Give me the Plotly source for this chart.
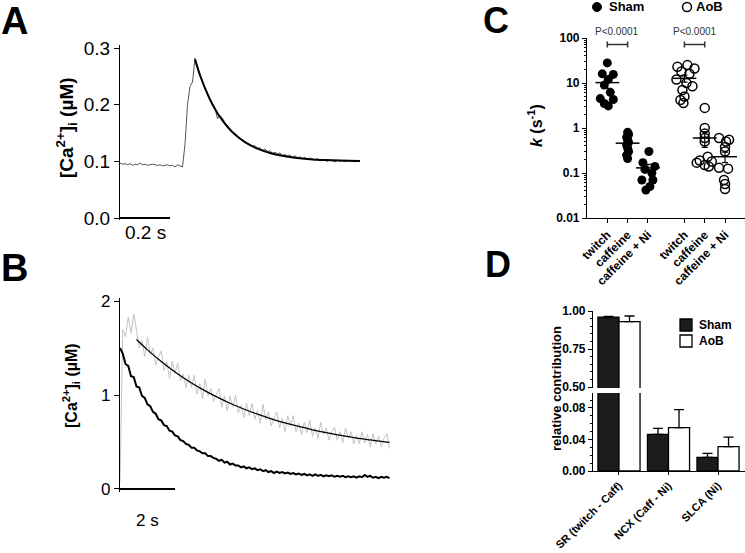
import plotly.graph_objects as go

# ------------------------------------------------------------------ data
# Panel A: twitch Ca transient (sampled every A_DT s) and its exponential fit
A_DT = 0.01
A_TRACE = [
    0.097, 0.095, 0.096, 0.094, 0.096, 0.093, 0.095, 0.094, 0.097, 0.094,
    0.095, 0.093, 0.094, 0.095, 0.094, 0.093, 0.094, 0.092, 0.093, 0.094,
    0.092, 0.093, 0.090, 0.094, 0.092,
    0.090, 0.130, 0.200, 0.232, 0.240, 0.282,
    0.266, 0.250, 0.241, 0.228, 0.220, 0.208, 0.201, 0.194, 0.175, 0.181,
    0.176, 0.168, 0.163, 0.158, 0.152, 0.149, 0.144, 0.141, 0.137, 0.134,
    0.131, 0.130, 0.126, 0.128, 0.123, 0.124, 0.119, 0.122, 0.117, 0.119,
    0.114, 0.116, 0.113, 0.115, 0.110, 0.112, 0.109, 0.111, 0.107, 0.110,
    0.106, 0.108, 0.105, 0.107, 0.103, 0.106, 0.104, 0.102, 0.105, 0.101,
    0.103, 0.102, 0.100, 0.103, 0.101, 0.099, 0.102, 0.100, 0.101, 0.099,
    0.102, 0.100, 0.101, 0.099, 0.101, 0.100,
]
A_FIT_T = [0.30, 0.32, 0.34, 0.36, 0.38, 0.40, 0.43, 0.46, 0.50, 0.55, 0.60,
           0.65, 0.70, 0.76, 0.82, 0.88, 0.96]
A_FIT_V = [0.280, 0.2523, 0.229, 0.2092, 0.1924, 0.1782, 0.1609, 0.1474, 0.134,
           0.1224, 0.1148, 0.1097, 0.1064, 0.1039, 0.1024, 0.1015, 0.1008]
A_YTICKS = [0.0, 0.1, 0.2, 0.3]

# Panel B: caffeine (grey) and caffeine + Ni (black) transients, sampled every B_DT s
B_DT = 0.1
B_CAFF = [
    0.08, 1.70, 1.62, 1.83, 1.66, 1.86,
    1.69, 1.50, 1.58, 1.41, 1.62, 1.43, 1.50, 1.32, 1.40, 1.47,
    1.26, 1.35, 1.18, 1.36, 1.23, 1.34, 1.15, 1.22, 1.08, 1.21,
    1.08, 1.21, 1.01, 1.12, 0.96, 1.17, 0.99, 1.07, 0.93, 1.00,
    1.07, 0.87, 0.99, 0.83, 0.99, 0.87, 1.00, 0.81, 0.89, 0.76,
    0.91, 0.78, 0.91, 0.74, 0.84, 0.70, 0.90, 0.74, 0.82, 0.67,
    0.76, 0.82, 0.65, 0.75, 0.61, 0.78, 0.67, 0.78, 0.61, 0.70,
    0.58, 0.71, 0.60, 0.73, 0.56, 0.65, 0.54, 0.71, 0.58, 0.65,
    0.52, 0.61, 0.66, 0.52, 0.61, 0.49, 0.65, 0.54, 0.61, 0.48,
    0.57, 0.48, 0.61, 0.49, 0.58, 0.45, 0.59, 0.48, 0.56, 0.45,
    0.54, 0.59, 0.43,
]
B_CAFF_FIT_T = [0.6, 1.0, 1.5, 2.0, 2.5, 3.0, 3.5, 4.0, 4.5, 5.0, 5.5, 6.0, 6.5,
                7.0, 7.5, 8.0, 8.5, 9.0, 9.5, 9.8]
B_CAFF_FIT_V = [1.59, 1.48, 1.356, 1.245, 1.147, 1.06, 0.982, 0.912, 0.851, 0.796,
                0.747, 0.703, 0.665, 0.63, 0.599, 0.572, 0.547, 0.526, 0.506, 0.496]
B_NI = [
    1.50, 1.44, 1.33, 1.31, 1.20, 1.19, 1.09, 1.08, 0.99, 0.97,
    0.90, 0.88, 0.82, 0.80, 0.74, 0.73, 0.68, 0.67, 0.62, 0.61,
    0.57, 0.56, 0.52, 0.51, 0.48, 0.47, 0.44, 0.44, 0.41, 0.40,
    0.38, 0.38, 0.35, 0.35, 0.33, 0.32, 0.30, 0.31, 0.28, 0.29,
    0.26, 0.27, 0.25, 0.25, 0.23, 0.24, 0.22, 0.23, 0.21, 0.22,
    0.20, 0.21, 0.19, 0.20, 0.18, 0.19, 0.17, 0.185, 0.17, 0.18,
    0.165, 0.175, 0.16, 0.17, 0.155, 0.165, 0.15, 0.16, 0.145, 0.155,
    0.14, 0.155, 0.14, 0.15, 0.135, 0.145, 0.135, 0.145, 0.13, 0.14,
    0.13, 0.14, 0.125, 0.135, 0.125, 0.135, 0.12, 0.135, 0.125, 0.15,
    0.13, 0.14, 0.12, 0.13, 0.115, 0.13, 0.12, 0.13, 0.115,
]
B_YTICKS = [0, 1, 2]

# Panel C: rate constants k (s^-1)
C_CATEGORIES = ["twitch", "caffeine", "caffeine + Ni"]
C_SHAM_TWITCH = [28, 16, 15.5, 12, 9, 6.2, 4.5, 4.3, 3.5, 3.1]
C_SHAM_CAFF = [0.8, 0.72, 0.62, 0.55, 0.48, 0.42, 0.36, 0.3, 0.25, 0.21]
C_SHAM_NI = [0.3, 0.17, 0.14, 0.12, 0.1, 0.07, 0.07, 0.05, 0.042]
C_AOB_TWITCH = [25, 23, 21, 18, 16, 12, 10, 8.5, 7, 5, 4.2, 3.6]
C_AOB_CAFF = [2.8, 1.0, 0.75, 0.6, 0.5, 0.23, 0.19, 0.18, 0.17, 0.15, 0.14]
C_AOB_NI = [0.6, 0.55, 0.5, 0.38, 0.3, 0.13, 0.125, 0.07, 0.057, 0.044]
C_SHAM_MEAN = [10.2, 0.46, 0.13]
C_SHAM_SEM = [2.6, 0.06, 0.025]
C_AOB_MEAN = [12.7, 0.6, 0.23]
C_AOB_SEM = [2.2, 0.23, 0.06]
C_PTEXT = "P<0.0001"

# Panel D: relative contribution
D_CATEGORIES = ["SR (twitch - Caff)", "NCX (Caff - Ni)", "SLCA (Ni)"]
D_SHAM = [0.960, 0.0466, 0.0174]
D_SHAM_ERR = [0.005, 0.0076, 0.005]
D_AOB = [0.930, 0.055, 0.031]
D_AOB_ERR = [0.037, 0.023, 0.012]

# ------------------------------------------------------------------ layout helpers
W, H = 745, 553
FONT = "Liberation Sans, Arial, sans-serif"


def fx(p):
    return p / W


def fy(p):
    return 1 - p / H


AX = dict(showgrid=False, zeroline=False, showline=True, linecolor="black",
          linewidth=1.2, ticks="outside", tickcolor="black", tickwidth=1.2,
          mirror=False, automargin=False)

fig = go.Figure()

# ------------------------------------------------------------------ Panel A
a_t = [i * A_DT for i in range(len(A_TRACE))]
fig.add_trace(go.Scatter(x=a_t, y=A_TRACE, mode="lines",
                         line=dict(color="#555555", width=1),
                         xaxis="x", yaxis="y", showlegend=False))
fig.add_trace(go.Scatter(x=A_FIT_T, y=A_FIT_V, mode="lines",
                         line=dict(color="black", width=2, shape="spline"),
                         xaxis="x", yaxis="y", showlegend=False))

# ------------------------------------------------------------------ Panel B
b_t = [i * B_DT for i in range(len(B_CAFF))]
fig.add_trace(go.Scatter(x=b_t, y=B_CAFF, mode="lines",
                         line=dict(color="#c4c4c4", width=1),
                         xaxis="x2", yaxis="y2", showlegend=False))
fig.add_trace(go.Scatter(x=B_CAFF_FIT_T, y=B_CAFF_FIT_V, mode="lines",
                         line=dict(color="black", width=1.3, shape="spline"),
                         xaxis="x2", yaxis="y2", showlegend=False))
b_t2 = [i * B_DT for i in range(len(B_NI))]
fig.add_trace(go.Scatter(x=b_t2, y=B_NI, mode="lines",
                         line=dict(color="black", width=2),
                         xaxis="x2", yaxis="y2", showlegend=False))

# ------------------------------------------------------------------ Panel C
PX_PER_UNIT_C = 20.3
SHAM_POS = [1, 2, 3]
AOB_POS = [4.8, 5.8, 6.8]
JITTER_PX = {
    "st": [0, -5, 6, 1, -3, 3, -7, 6, -3, 1],
    "sc": [0, 1, -1, 0, 1, -1, 0, 1, -1, 0],
    "sn": [1, -5, 7, -3, 4, -6, 5, 2, -2],
    "at": [3, -7, 10, -3, 5, -8, 2, 8, -2, 0, -4, -1],
    "ac": [0, 0, 0, 0, 0, 3, -5, 7, -8, 0, 4],
    "an": [-6, 4, 1, 0, 0, -6, 3, -1, 0, 0],
}


def jit(pos, key):
    return [pos + j / PX_PER_UNIT_C for j in JITTER_PX[key]]


for pos, vals, key in zip(SHAM_POS, [C_SHAM_TWITCH, C_SHAM_CAFF, C_SHAM_NI], ["st", "sc", "sn"]):
    fig.add_trace(go.Scatter(x=jit(pos, key), y=vals, mode="markers",
                             marker=dict(symbol="circle", size=9, color="black",
                                         line=dict(width=0)),
                             xaxis="x3", yaxis="y3", showlegend=False))
for pos, vals, key in zip(AOB_POS, [C_AOB_TWITCH, C_AOB_CAFF, C_AOB_NI], ["at", "ac", "an"]):
    fig.add_trace(go.Scatter(x=jit(pos, key), y=vals, mode="markers",
                             marker=dict(symbol="circle-open", size=9, color="black",
                                         line=dict(width=1.5, color="black")),
                             xaxis="x3", yaxis="y3", showlegend=False))
for pos, mean, sem in [(SHAM_POS, C_SHAM_MEAN, C_SHAM_SEM), (AOB_POS, C_AOB_MEAN, C_AOB_SEM)]:
    fig.add_trace(go.Scatter(x=pos, y=mean, mode="markers",
                             marker=dict(symbol="line-ew", size=17,
                                         line=dict(width=1.5, color="black")),
                             error_y=dict(type="data", array=sem, color="black",
                                          thickness=1.2, width=3),
                             xaxis="x3", yaxis="y3", showlegend=False))
# significance brackets (twitch vs caffeine)
for p0, p1 in [(SHAM_POS[0], SHAM_POS[1]), (AOB_POS[0], AOB_POS[1])]:
    fig.add_trace(go.Scatter(x=[p0, p0, p0, p1, p1, p1],
                             y=[61.5, 83.6, 71.7, 71.7, 83.6, 61.5], mode="lines",
                             line=dict(color="#333333", width=1.5),
                             xaxis="x3", yaxis="y3", showlegend=False))

# ------------------------------------------------------------------ Panel D
for xa, ya in [("x4", "y4"), ("x5", "y5")]:
    fig.add_trace(go.Bar(x=D_CATEGORIES, y=D_SHAM, name="Sham",
                         marker=dict(color="#1c1c1c", line=dict(color="black", width=1.3)),
                         error_y=dict(type="data", symmetric=False, array=D_SHAM_ERR,
                                      arrayminus=[0, 0, 0], color="black",
                                      thickness=1.3, width=5),
                         xaxis=xa, yaxis=ya, showlegend=False))
    fig.add_trace(go.Bar(x=D_CATEGORIES, y=D_AOB, name="AoB",
                         marker=dict(color="white", line=dict(color="black", width=1.3)),
                         error_y=dict(type="data", symmetric=False, array=D_AOB_ERR,
                                      arrayminus=[0, 0, 0], color="black",
                                      thickness=1.3, width=5),
                         xaxis=xa, yaxis=ya, showlegend=False))

# ------------------------------------------------------------------ axes
layout = dict(
    width=W, height=H, margin=dict(l=0, r=0, t=0, b=0, autoexpand=False),
    paper_bgcolor="white", plot_bgcolor="white",
    font=dict(family=FONT, color="black"),
    showlegend=False,
    barmode="group", bargap=0.15, bargroupgap=0,
    xaxis=dict(domain=[fx(120), fx(368)], range=[0, 0.992], visible=False,
               anchor="y", automargin=False),
    yaxis=dict(domain=[fy(220), fy(45)], range=[-0.0035, 0.3053], anchor="x",
               tickvals=A_YTICKS, tickformat=".1f", ticklen=5,
               tickfont=dict(size=19), **AX),
    xaxis2=dict(domain=[fx(120), fx(395)], range=[0, 10.0], visible=False,
                anchor="y2", automargin=False),
    yaxis2=dict(domain=[fy(492), fy(298)], range=[-0.032, 2.032], anchor="x2",
                tickvals=B_YTICKS, ticklen=5, tickfont=dict(size=17), **AX),
    xaxis3=dict(domain=[fx(587), fx(745)], range=[0, 158 / PX_PER_UNIT_C], anchor="y3",
                tickvals=SHAM_POS + AOB_POS, ticktext=C_CATEGORIES * 2,
                tickangle=-45, ticklen=4, tickfont=dict(size=12, weight="bold"), **AX),
    yaxis3=dict(domain=[fy(218), fy(38)], type="log", range=[-2, 2], dtick=1,
                anchor="x3", ticklen=4, tickfont=dict(size=12, weight="bold"),
                minor=dict(ticks="outside", ticklen=2, tickcolor="black", tickwidth=1),
                **AX),
    xaxis4=dict(domain=[fx(593), fx(745)], range=[-0.525, 2.545], anchor="y4",
                type="category", tickangle=-45, ticklen=3,
                tickfont=dict(size=11, weight="bold"), **AX),
    yaxis4=dict(domain=[fy(471), fy(393)], range=[0, 0.099], anchor="x4",
                dtick=0.04, tick0=0, tickformat=".2f", ticklen=4,
                tickfont=dict(size=12, weight="bold"),
                minor=dict(dtick=0.01, ticks="outside", ticklen=2, tickcolor="black", tickwidth=1),
                **AX),
    xaxis5=dict(domain=[fx(593), fx(745)], range=[-0.525, 2.545], anchor="y5",
                type="category", visible=False, automargin=False),
    yaxis5=dict(domain=[fy(388), fy(311)], range=[0.4934, 1.0], anchor="x5",
                dtick=0.25, tick0=0, tickformat=".2f", ticklen=4,
                tickfont=dict(size=12, weight="bold"),
                minor=dict(dtick=0.05, ticks="outside", ticklen=2, tickcolor="black", tickwidth=1),
                **AX),
)
fig.update_layout(**layout)

# ------------------------------------------------------------------ annotations
ann = []


def add_text(text, x, y, size, bold=False, angle=0, xanchor="center", color="black",
             xref="paper", yref="paper"):
    ann.append(dict(text=text, x=x, y=y, xref=xref, yref=yref, showarrow=False,
                    xanchor=xanchor, yanchor="middle", textangle=angle,
                    font=dict(size=size, family=FONT, color=color,
                              weight="bold" if bold else "normal")))


# panel letters
add_text("A", fx(15), fy(21), 38, bold=True)
add_text("B", fx(15), fy(268), 38, bold=True)
add_text("C", fx(496), fy(21), 36, bold=True)
add_text("D", fx(498), fy(264), 36, bold=True)
# y titles
add_text("[Ca<sup>2+</sup>]<sub>i</sub> (µM)", fx(67), fy(128), 19, bold=True, angle=-90)
add_text("[Ca<sup>2+</sup>]<sub>i</sub> (µM)", fx(71), fy(386), 16, bold=True, angle=-90)
add_text("<i>k</i> (s<sup>-1</sup>)", fx(535), fy(126), 16, bold=True, angle=-90)
add_text("relative contribution", fx(556), fy(389), 13, bold=True, angle=-90)
# scale-bar labels
add_text("0.2 s", 0.1, fy(232), 19, xref="x")
add_text("2 s", 1.0, fy(520), 17, xref="x2")
# p values
add_text(C_PTEXT, (SHAM_POS[0] + SHAM_POS[1]) / 2, fy(32), 10, color="#333333", xref="x3")
add_text(C_PTEXT, (AOB_POS[0] + AOB_POS[1]) / 2, fy(32), 10, color="#333333", xref="x3")
# legends
add_text("Sham", fx(607), fy(7), 13, bold=True, xanchor="left")
add_text("AoB", fx(694), fy(7), 13, bold=True, xanchor="left")
add_text("Sham", fx(697), fy(325), 12, bold=True, xanchor="left")
add_text("AoB", fx(697), fy(341), 12, bold=True, xanchor="left")
fig.update_layout(annotations=ann)

shapes = [
    # scale bars
    dict(type="line", xref="x", yref="y", x0=0, x1=0.2, y0=0, y1=0,
         line=dict(color="black", width=2)),
    dict(type="line", xref="x2", yref="y2", x0=0, x1=2, y0=0, y1=0,
         line=dict(color="black", width=2)),
    # legend symbols C
    dict(type="circle", xref="paper", yref="paper", x0=fx(592.5), x1=fx(601.5),
         y0=fy(11.5), y1=fy(2.5), fillcolor="black", line=dict(color="black", width=1)),
    dict(type="circle", xref="paper", yref="paper", x0=fx(682.5), x1=fx(691.5),
         y0=fy(11.5), y1=fy(2.5), fillcolor="rgba(0,0,0,0)", line=dict(color="black", width=1.5)),
    # legend symbols D
    dict(type="rect", xref="paper", yref="paper", x0=fx(680), x1=fx(692),
         y0=fy(331), y1=fy(319), fillcolor="#1c1c1c", line=dict(color="black", width=1.3)),
    dict(type="rect", xref="paper", yref="paper", x0=fx(680), x1=fx(692),
         y0=fy(347), y1=fy(335), fillcolor="white", line=dict(color="black", width=1.3)),
]
fig.update_layout(shapes=shapes)

# remove the default page margin so the 745x553 figure fills the window exactly
fig.write_html("out.html",
               config={"displayModeBar": False},
               post_script="document.body.style.margin='0';document.body.style.overflow='hidden';")
